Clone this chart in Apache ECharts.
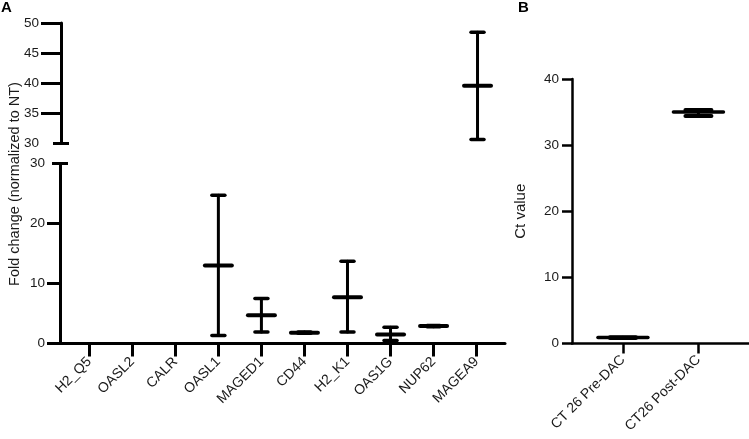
<!DOCTYPE html>
<html>
<head>
<meta charset="utf-8">
<script src="https://cdn.jsdelivr.net/npm/echarts@6/dist/echarts.min.js"></script>
<style>html,body{margin:0;padding:0;background:#fff;}#c{width:749px;height:439px;}</style>
</head>
<body>
<div id="c"></div>
<script>
// ---- Data ----
const categoriesA = ['H2_Q5','OASL2','CALR','OASL1','MAGED1','CD44','H2_K1','OAS1G','NUP62','MAGEA9'];
const meanA = [null, null, null, 13.0, 4.7, 1.8, 7.7, 1.5, 2.9, 39.55];
const lowA  = [null, null, null, 1.35, 1.9, 1.7, 1.9, 0.5, 2.8, 30.6];
const highA = [null, null, null, 24.7, 7.5, 1.9, 13.7, 2.7, 3.0, 48.45];
const lowerTicksA = [0, 10, 20, 30];
const upperTicksA = [30, 35, 40, 45, 50];

const categoriesB = ['CT 26 Pre-DAC', 'CT26 Post-DAC'];
const meanB = [0.9, 35.0];
const lowB  = [0.85, 34.4];
const highB = [0.95, 35.3];
const ticksB = [0, 10, 20, 30, 40];

const BREAK = 30;

// ---- Build ----
const lowerData = [], upperData = [];
meanA.forEach((m, i) => {
  if (m == null) return;
  const row = [i, m, lowA[i], highA[i]];
  if (highA[i] <= BREAK) lowerData.push(row); else upperData.push(row);
});
const dataB = meanB.map((m, i) => [i, m, lowB[i], highB[i]]);

function errRender(meanHalf, capHalf, meanLW, capLW, vLW) {
  return function (params, api) {
    const x = api.value(0), m = api.value(1), lo = api.value(2), hi = api.value(3);
    const pm = api.coord([x, m]), pl = api.coord([x, lo]), ph = api.coord([x, hi]);
    const st = (w) => ({ stroke: '#000', lineWidth: w, lineCap: 'round', fill: null });
    return {
      type: 'group',
      children: [
        { type: 'line', shape: { x1: pl[0], y1: pl[1], x2: ph[0], y2: ph[1] }, style: st(vLW) },
        { type: 'line', shape: { x1: ph[0] - capHalf, y1: ph[1], x2: ph[0] + capHalf, y2: ph[1] }, style: st(capLW) },
        { type: 'line', shape: { x1: pl[0] - capHalf, y1: pl[1], x2: pl[0] + capHalf, y2: pl[1] }, style: st(capLW) },
        { type: 'line', shape: { x1: pm[0] - meanHalf, y1: pm[1], x2: pm[0] + meanHalf, y2: pm[1] }, style: st(meanLW) }
      ]
    };
  };
}

const FONT = 'Liberation Sans';
const txt = '#1a1a1a';
const idx = categoriesA.map((_, i) => i);
const hiddenY = (grid, min, max, inside) => ({
  gridIndex: grid, type: 'value', min: min, max: max, position: 'left',
  axisLine: { show: false, onZero: false }, splitLine: { show: false }, axisLabel: { show: false },
  axisTick: { show: true, inside: inside, length: 8, lineStyle: { color: '#000', width: 3 }, customValues: [BREAK] }
});

const chart = echarts.init(document.getElementById('c'), null, { renderer: 'canvas' });
chart.setOption({
  animation: false,
  backgroundColor: '#fff',
  textStyle: { fontFamily: FONT },
  grid: [
    { left: 61, top: 23, width: 444, height: 120 },   // A upper
    { left: 60, top: 163.5, width: 445, height: 180 }, // A lower
    { left: 572, top: 79, width: 177, height: 264.5 }  // B
  ],
  xAxis: [
    { gridIndex: 0, type: 'value', min: -0.7, max: 9.64, show: false },
    { gridIndex: 1, type: 'value', min: -0.68, max: 9.66,
      axisLine: { show: true, onZero: false, lineStyle: { color: '#000', width: 3 } },
      splitLine: { show: false },
      axisTick: { show: true, length: 13, lineStyle: { color: '#000', width: 3 }, customValues: idx },
      axisLabel: { customValues: idx, rotate: 45, margin: 16, fontSize: 14, color: txt, fontFamily: FONT,
        formatter: v => categoriesA[Math.round(v)] || '' } },
    { gridIndex: 2, type: 'value', min: -0.675, max: 1.67,
      axisLine: { show: true, onZero: false, lineStyle: { color: '#000', width: 2.5 } },
      splitLine: { show: false },
      axisTick: { show: true, length: 10, lineStyle: { color: '#000', width: 2.5 }, customValues: [0, 1] },
      axisLabel: { customValues: [0, 1], rotate: 45, margin: 14, fontSize: 14, color: txt, fontFamily: FONT,
        formatter: v => categoriesB[Math.round(v)] || '' } }
  ],
  yAxis: [
    // A upper main
    { gridIndex: 0, type: 'value', min: 30, max: 50,
      axisLine: { show: true, onZero: false, lineStyle: { color: '#000', width: 3 } },
      splitLine: { show: false },
      axisTick: { show: true, length: 20, lineStyle: { color: '#000', width: 3 }, customValues: upperTicksA.filter(v => v !== BREAK) },
      axisLabel: { customValues: upperTicksA, margin: 22, fontSize: 13.5, color: txt, fontFamily: FONT } },
    hiddenY(0, 30, 50, false),
    hiddenY(0, 30, 50, true),
    // A lower main
    { gridIndex: 1, type: 'value', min: 0, max: 30,
      axisLine: { show: true, onZero: false, lineStyle: { color: '#000', width: 3 } },
      splitLine: { show: false },
      axisTick: { show: true, length: 13, lineStyle: { color: '#000', width: 3 }, customValues: lowerTicksA.filter(v => v !== BREAK) },
      axisLabel: { customValues: lowerTicksA, margin: 15, fontSize: 13.5, color: txt, fontFamily: FONT } },
    hiddenY(1, 0, 30, false),
    hiddenY(1, 0, 30, true),
    // B
    { gridIndex: 2, type: 'value', min: 0, max: 40,
      name: 'Ct value', nameLocation: 'middle', nameGap: 44, nameRotate: 90,
      nameTextStyle: { fontSize: 15, color: txt, fontFamily: FONT },
      axisLine: { show: true, onZero: false, lineStyle: { color: '#000', width: 2.5 } },
      splitLine: { show: false },
      axisTick: { show: true, length: 10, lineStyle: { color: '#000', width: 2.5 }, customValues: ticksB },
      axisLabel: { customValues: ticksB, margin: 13, fontSize: 13.5, color: txt, fontFamily: FONT } }
  ],
  series: [
    { type: 'custom', xAxisIndex: 0, yAxisIndex: 0, data: upperData, renderItem: errRender(13.5, 6.5, 4, 3.5, 3), z: 5 },
    { type: 'custom', xAxisIndex: 1, yAxisIndex: 3, data: lowerData, renderItem: errRender(13.5, 6.5, 4, 3.5, 3), z: 5 },
    { type: 'custom', xAxisIndex: 2, yAxisIndex: 6, data: dataB, renderItem: errRender(25, 13, 3.5, 4, 3), z: 5 }
  ],
  graphic: [
    { type: 'text', left: 1, top: 0, style: { text: 'A', font: 'bold 15px "Liberation Sans"', fill: '#000' } },
    { type: 'text', left: 518, top: 0, style: { text: 'B', font: 'bold 15px "Liberation Sans"', fill: '#000' } },
    { type: 'text', x: 15, y: 184, rotation: Math.PI / 2,
      style: { text: 'Fold change (normalized to NT)', font: '14.5px "Liberation Sans"', fill: txt, align: 'center', verticalAlign: 'middle' } }
  ]
});
</script>
</body>
</html>
